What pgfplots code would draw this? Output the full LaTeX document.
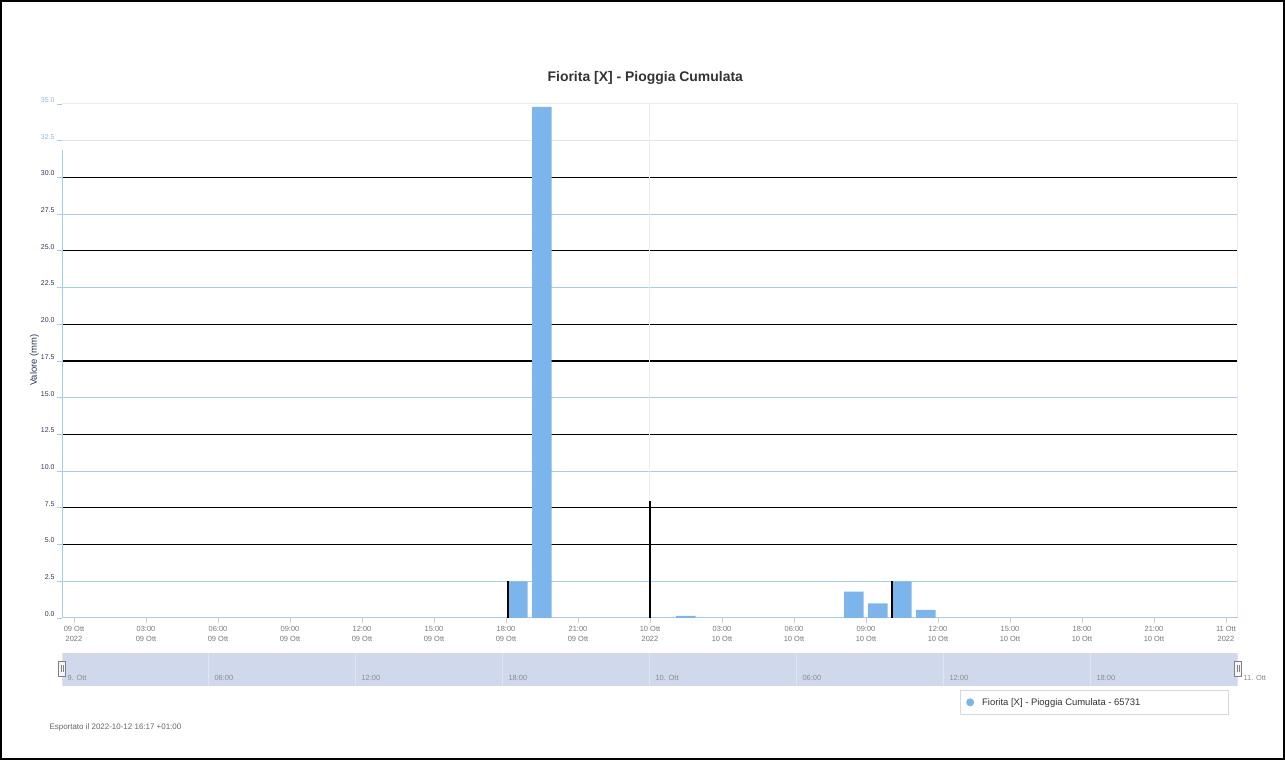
\documentclass[border=0pt]{standalone}
\usepackage{pgfplots}
\pgfplotsset{compat=1.18}
\usepackage{fontspec}
\setmainfont{Liberation Sans}

\definecolor{hcblue}{RGB}{124,181,236}
\definecolor{gridblue}{RGB}{165,203,240}
\definecolor{navblue}{RGB}{208,216,235}
\definecolor{navgrid}{RGB}{222,228,242}
\definecolor{tickgray}{RGB}{120,120,120}
\definecolor{ylab}{RGB}{45,55,85}
\definecolor{ylablight}{RGB}{150,180,210}
\definecolor{titlegray}{RGB}{51,51,51}

\begin{document}
\begin{tikzpicture}[x=1bp,y=1bp]
\path[use as bounding box] (0,0) rectangle (1285,760);
\draw[line width=2bp] (1,1) rectangle (1284,759);

% main chart
\begin{axis}[
    at={(62bp,142bp)}, anchor=south west,
    scale only axis, width=1176bp, height=514bp,
    xmin=-0.5, xmax=48.5, ymin=0, ymax=35,
    axis line style={draw=none},
    xtick pos=bottom, ytick pos=left,
    tick align=outside, major tick length=5bp,
    xtick={0,3,6,9,12,15,18,21,24,27,30,33,36,39,42,45,48},
    xticklabels={{09 Ott\\2022},{03:00\\09 Ott},{06:00\\09 Ott},{09:00\\09 Ott},
        {12:00\\09 Ott},{15:00\\09 Ott},{18:00\\09 Ott},{21:00\\09 Ott},
        {10 Ott\\2022},{03:00\\10 Ott},{06:00\\10 Ott},{09:00\\10 Ott},
        {12:00\\10 Ott},{15:00\\10 Ott},{18:00\\10 Ott},{21:00\\10 Ott},
        {11 Ott\\2022}},
    xticklabel style={align=center, font=\fontsize{7.5}{10}\selectfont, text=tickgray},
    xtick style={draw=black!20, line width=0.8bp},
    ytick={0,2.5,5,7.5,10,12.5,15,17.5,20,22.5,25,27.5,30,32.5,35},
    yticklabels={\textcolor{ylab}{0.0},\textcolor{ylab}{2.5},\textcolor{ylab}{5.0},
        \textcolor{ylab}{7.5},\textcolor{ylab}{10.0},\textcolor{ylab}{12.5},
        \textcolor{ylab}{15.0},\textcolor{ylab}{17.5},\textcolor{ylab}{20.0},
        \textcolor{ylab}{22.5},\textcolor{ylab}{25.0},\textcolor{ylab}{27.5},
        \textcolor{ylab}{30.0},\textcolor{ylablight}{32.5},\textcolor{ylablight}{35.0}},
    yticklabel style={font=\fontsize{7}{8}\selectfont, yshift=4bp, xshift=1bp},
    ytick style={draw=gridblue, line width=0.8bp},
    ymajorgrids,
    major grid style={draw=gridblue, line width=1bp},
    extra y ticks={5,7.5,12.5,17.5,20,25,30},
    extra y tick labels={},
    extra y tick style={major grid style={draw=black, line width=1.3bp}},
    ylabel={Valore (mm)},
    ylabel style={at={(axis description cs:-0.0235,0.502)}, anchor=center,
        font=\fontsize{9.5}{11}\selectfont, text=ylab},
    title={Fiorita [X] - Pioggia Cumulata},
    title style={at={(axis description cs:0.496,1.039)}, anchor=center,
        font=\fontsize{14}{16}\selectfont\bfseries, text=titlegray},
    legend style={at={(axis description cs:0.7636,-0.140)}, anchor=north west,
        draw=black!15, fill=white, font=\fontsize{9.5}{11}\selectfont,
        inner xsep=6bp, inner ysep=6bp, text=titlegray},
    legend cell align=left,
    legend image code/.code={\fill[hcblue] (6bp,0bp) circle (4bp);},
]
% faint frame and light top gridlines
\draw[black!8, line width=1bp] (rel axis cs:0,1) -- (rel axis cs:1,1) -- (rel axis cs:1,0);
\draw[black!8, line width=1bp] (axis cs:24,0) -- (axis cs:24,35);
\draw[black!10, line width=1bp] (axis cs:-0.5,32.5) -- (axis cs:48.5,32.5);
\draw[black!8, line width=1bp] (axis cs:-0.5,35) -- (axis cs:48.5,35);
\draw[gridblue, line width=1.2bp] (rel axis cs:0,0) -- (rel axis cs:0,0.91);
\draw[gridblue, line width=1.2bp] (rel axis cs:0,0) -- (rel axis cs:1,0);

\addplot[ybar, bar width=19.5bp, fill=hcblue, draw=none] coordinates {
    (18.5,2.5)
    (19.5,34.8)
    (25.5,0.15)
    (32.5,1.8)
    (33.5,1.0)
    (34.5,2.5)
    (35.5,0.55)
};
\addlegendentry{\makebox[244bp][l]{\hspace{6bp}Fiorita [X] - Pioggia Cumulata - 65731}}

\addplot[black, line width=1.2bp, forget plot] coordinates {(24,0) (24,8.0)};
\addplot[black, line width=1.2bp, forget plot] coordinates {(18.08,0) (18.08,2.5)};
\addplot[black, line width=1.2bp, forget plot] coordinates {(34.08,0) (34.08,2.5)};
\end{axis}

% navigator
\begin{axis}[
    at={(62bp,74bp)}, anchor=south west,
    scale only axis, width=1176bp, height=33bp,
    xmin=0, xmax=48, ymin=0, ymax=1,
    axis line style={draw=none},
    axis background/.style={fill=navblue},
    ytick=\empty,
    xtick={0,6,12,18,24,30,36,42,48},
    xticklabels={9. Ott,06:00,12:00,18:00,10. Ott,06:00,12:00,18:00,11. Ott},
    xmajorgrids, major grid style={draw=navgrid, line width=1bp},
    major tick length=0pt,
    xticklabel style={anchor=west, xshift=2bp, yshift=8bp,
        font=\fontsize{7.5}{9}\selectfont, text=black!45},
]
\addplot[draw=none, forget plot] coordinates {(0,0) (48,1)};
\end{axis}

% navigator handles
\foreach \hx in {62,1238} {
  \draw[black!50, fill=black!4, line width=0.8bp] (\hx-3.5,84) rectangle (\hx+3.5,99);
  \draw[black!50, line width=0.6bp] (\hx-1,88) -- (\hx-1,95) (\hx+1,88) -- (\hx+1,95);
}

% footer
\node[anchor=west, font=\fontsize{8}{9}\selectfont, text=black!60] at (46,33)
    {Esportato il 2022-10-12 16:17 +01:00};
\end{tikzpicture}
\end{document}
